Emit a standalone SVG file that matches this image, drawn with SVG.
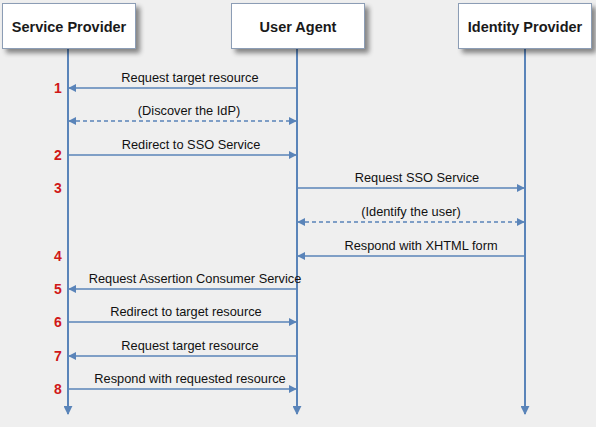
<svg xmlns="http://www.w3.org/2000/svg" width="596" height="427" viewBox="0 0 596 427">
<style>
.box{fill:#ffffff;stroke:#8c9db5;stroke-width:1}
.title{font-family:"Liberation Sans",Arial,sans-serif;font-weight:bold;font-size:14.5px;fill:#1a1a1a;text-anchor:middle}
.life{stroke:#5a84b9;stroke-width:2;fill:none}
.msg{stroke:#5a84b9;stroke-width:1.6;fill:none}
.dash{stroke-dasharray:4 3}
.lbl{font-family:"Liberation Sans",Arial,sans-serif;font-size:12.8px;fill:#111;text-anchor:middle}
.num{font-family:"Liberation Sans",Arial,sans-serif;font-weight:bold;font-size:14px;fill:#d01818;text-anchor:middle}
</style>
<defs>
<filter id="sh" x="-20%" y="-20%" width="150%" height="170%">
<feGaussianBlur in="SourceAlpha" stdDeviation="2.5"/>
<feOffset dx="4" dy="4"/>
<feComponentTransfer><feFuncA type="linear" slope="0.45"/></feComponentTransfer>
<feMerge><feMergeNode/><feMergeNode in="SourceGraphic"/></feMerge>
</filter>
<marker id="ah" viewBox="0 0 10 10" refX="9" refY="5" markerWidth="5" markerHeight="5" orient="auto-start-reverse" markerUnits="strokeWidth">
<path d="M0,0 L10,5 L0,10 z" fill="#5a84b9"/>
</marker>
<marker id="lh" viewBox="0 0 10 10" refX="9" refY="5" markerWidth="4.5" markerHeight="4.5" orient="auto" markerUnits="strokeWidth">
<path d="M0,0 L10,5 L0,10 z" fill="#5a84b9"/>
</marker>
</defs>
<rect width="596" height="427" fill="#efefef"/>

<g id="lifelines">
<line class="life" x1="68" y1="48" x2="68" y2="414" marker-end="url(#lh)"/>
<line class="life" x1="297" y1="48" x2="297" y2="414" marker-end="url(#lh)"/>
<line class="life" x1="525" y1="48" x2="525" y2="414" marker-end="url(#lh)"/>
</g>

<g id="service-provider">
<rect class="box" x="2.5" y="3.5" width="133" height="45" filter="url(#sh)"/>
<text class="title" x="69" y="32">Service Provider</text>
</g>
<g id="user-agent">
<rect class="box" x="231.5" y="3.5" width="133" height="45" filter="url(#sh)"/>
<text class="title" x="298" y="32">User Agent</text>
</g>
<g id="identity-provider">
<rect class="box" x="458.5" y="3.5" width="133" height="45" filter="url(#sh)"/>
<text class="title" x="525" y="32">Identity Provider</text>
</g>

<g id="connectors">
<line class="msg" x1="297" y1="88" x2="69" y2="88" marker-end="url(#ah)"/>
<line class="msg dash" x1="69" y1="121" x2="296" y2="121" marker-start="url(#ah)" marker-end="url(#ah)"/>
<line class="msg" x1="69" y1="155" x2="296" y2="155" marker-end="url(#ah)"/>
<line class="msg" x1="298" y1="188" x2="524" y2="188" marker-end="url(#ah)"/>
<line class="msg dash" x1="298" y1="222" x2="524" y2="222" marker-start="url(#ah)" marker-end="url(#ah)"/>
<line class="msg" x1="525" y1="256" x2="298" y2="256" marker-end="url(#ah)"/>
<line class="msg" x1="297" y1="289" x2="69" y2="289" marker-end="url(#ah)"/>
<line class="msg" x1="69" y1="322" x2="296" y2="322" marker-end="url(#ah)"/>
<line class="msg" x1="297" y1="356" x2="69" y2="356" marker-end="url(#ah)"/>
<line class="msg" x1="69" y1="389" x2="296" y2="389" marker-end="url(#ah)"/>
</g>

<g id="labels">
<text class="lbl" x="190" y="82">Request target resource</text>
<text class="lbl" x="189" y="115">(Discover the IdP)</text>
<text class="lbl" x="191" y="149">Redirect to SSO Service</text>
<text class="lbl" x="417" y="182">Request SSO Service</text>
<text class="lbl" x="411" y="216">(Identify the user)</text>
<text class="lbl" x="421" y="250">Respond with XHTML form</text>
<text class="lbl" x="195" y="283">Request Assertion Consumer Service</text>
<text class="lbl" x="186" y="316">Redirect to target resource</text>
<text class="lbl" x="190" y="350">Request target resource</text>
<text class="lbl" x="190" y="383">Respond with requested resource</text>
</g>

<g id="numbers">
<text class="num" x="58" y="93">1</text>
<text class="num" x="58" y="160">2</text>
<text class="num" x="58" y="193">3</text>
<text class="num" x="58" y="261">4</text>
<text class="num" x="58" y="294">5</text>
<text class="num" x="58" y="327">6</text>
<text class="num" x="58" y="361">7</text>
<text class="num" x="58" y="394">8</text>
</g>
</svg>
